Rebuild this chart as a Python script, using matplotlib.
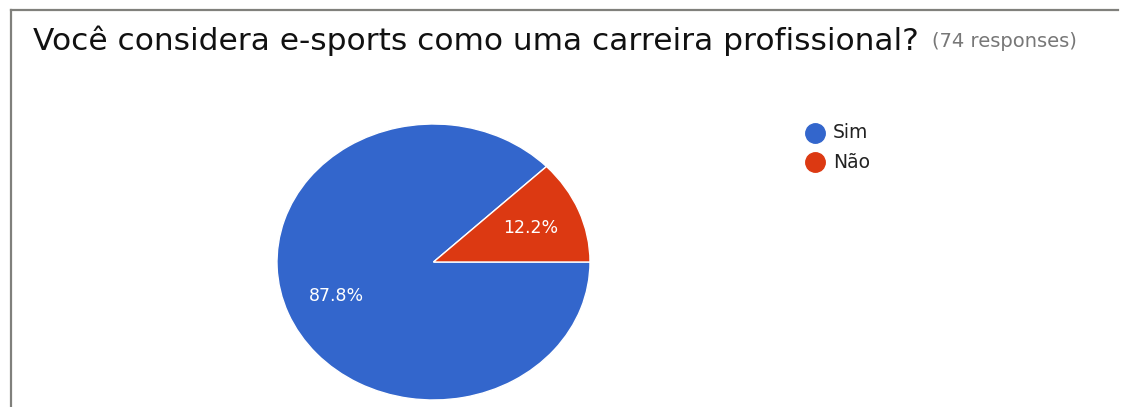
import matplotlib.pyplot as plt
from matplotlib.lines import Line2D

plt.rcParams["font.family"] = ["DejaVu Sans"]

# survey answers (74 responses)
labels = ["Sim", "Não"]
counts = [65, 9]
colors = ["#3366cc", "#dc3912"]

title = "Você considera e-sports como uma carreira profissional?"
subtitle = "(74 responses)"

W, H = 1122, 407
fig = plt.figure(figsize=(W / 100, H / 100), dpi=100)
fig.patch.set_facecolor("white")

# card border (top and left edges)
fig.add_artist(Line2D([11 / W, 1118 / W], [1 - 10 / H, 1 - 10 / H],
                      color="#80807c", lw=1.6, transform=fig.transFigure))
fig.add_artist(Line2D([11 / W, 11 / W], [1 - 10 / H, 0],
                      color="#80807c", lw=1.6, transform=fig.transFigure))

fig.text(33 / W, 1 - 50 / H, title, fontsize=22.5, color="#111111",
         ha="left", va="baseline")
fig.text(932 / W, 1 - 47 / H, subtitle, fontsize=14, color="#777777",
         ha="left", va="baseline")

# pie axes, slightly wider than tall
left, right, top, bottom = 277, 590, 124, 400
ax = fig.add_axes([left / W, 1 - bottom / H, (right - left) / W, (bottom - top) / H])
wedges, texts, autotexts = ax.pie(
    counts,
    colors=colors,
    startangle=0,
    counterclock=False,
    autopct="%.1f%%",
    pctdistance=0.67,
    radius=1.0,
    wedgeprops={"edgecolor": "white", "linewidth": 1.0},
    textprops={"color": "white", "fontsize": 12.5},
)
ax.set_aspect("auto")
ax.set_xlim(-1, 1)
ax.set_ylim(-1, 1)
ax.axis("off")

# legend
for i, (lab, col) in enumerate(zip(labels, colors)):
    y = 1 - (133 + 29 * i) / H
    fig.add_artist(Line2D([815 / W], [y], marker="o", markersize=14,
                          color=col, transform=fig.transFigure))
    fig.text(833 / W, y, lab, fontsize=13.5, color="#222222",
             ha="left", va="center")

fig.savefig("out.png", dpi=100)
